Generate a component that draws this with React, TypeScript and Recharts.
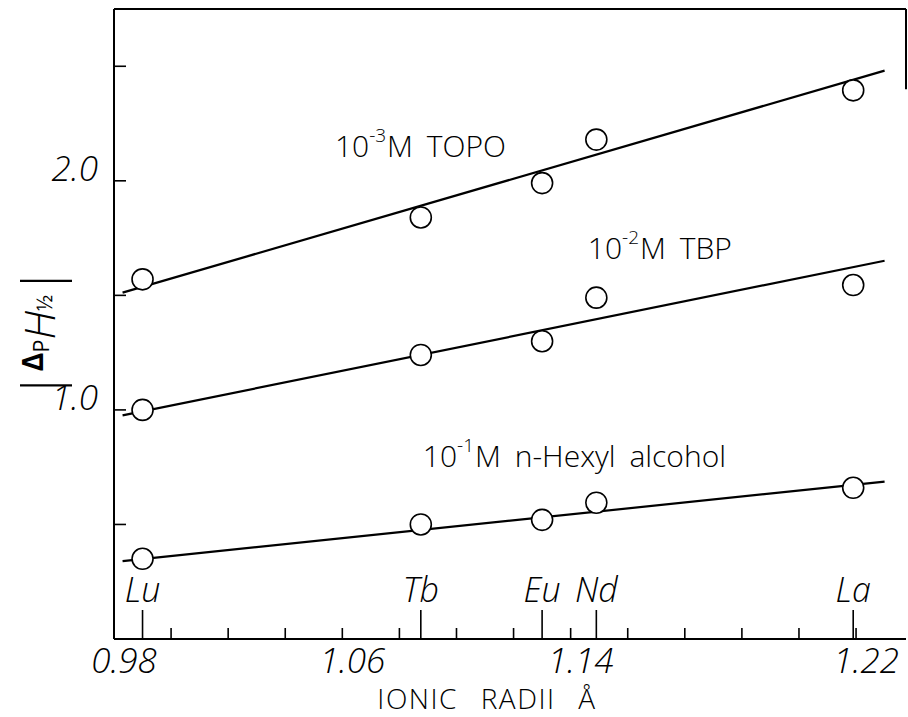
import React from "react";
import {
  ComposedChart,
  Line,
  Scatter,
  XAxis,
  YAxis,
  ReferenceLine,
  ReferenceDot,
} from "recharts";

// elements and ionic radii (as placed on the axis)
const elements = ["Lu", "Tb", "Eu", "Nd", "La"];
const radii = [0.99, 1.0875, 1.13, 1.149, 1.239];

// |Delta_P H_1/2| for each extractant
const topo = [1.57, 1.84, 1.99, 2.18, 2.395];
const tbp = [1.0, 1.24, 1.3, 1.49, 1.545];
const hexyl = [0.35, 0.5, 0.52, 0.595, 0.66];

// fitted straight lines (end points)
const fitX = [0.983, 1.25];
const topoFit = [1.512, 2.481];
const tbpFit = [0.976, 1.651];
const hexylFit = [0.34, 0.687];

// axis ticks
const minorTicks = [0.98, 1.0, 1.02, 1.04, 1.06, 1.08, 1.1, 1.12, 1.14, 1.16, 1.18, 1.2, 1.22, 1.24];
const xLabelAt = [0.98, 1.06, 1.14, 1.24];
const xLabelText = ["0.98", "1.06", "1.14", "1.22"];
const yTicks = [0.5, 1.0, 1.5, 2.0, 2.5];
const yLabelAt = [1.0, 2.0];
const yLabelText = ["1.0", "2.0"];

const X_MIN = 0.98;
const X_MAX = 1.2575;
const Y_MAX = 2.75;

const toPoints = (xs: number[], ys: number[]) => xs.map((x, i) => ({ x, y: ys[i] }));

const topoPts = toPoints(radii, topo);
const tbpPts = toPoints(radii, tbp);
const hexylPts = toPoints(radii, hexyl);
const topoLine = toPoints(fitX, topoFit);
const tbpLine = toPoints(fitX, tbpFit);
const hexylLine = toPoints(fitX, hexylFit);

const xTicks = [...minorTicks, ...radii].sort((a, b) => a - b);

const FONT = "'Open Sans', 'DejaVu Sans', sans-serif";
const near = (a: number, b: number) => Math.abs(a - b) < 1e-9;

const XTick = (props: any) => {
  const { x, y, payload } = props;
  const v = payload.value;
  const el = radii.findIndex((r) => near(r, v));
  const lab = xLabelAt.findIndex((r) => near(r, v));
  return (
    <g>
      {el >= 0 ? (
        <>
          <line x1={x} x2={x} y1={y} y2={y - 29} stroke="#000" strokeWidth={1.6} />
          <text
            x={x}
            y={y - 37}
            textAnchor="middle"
            fontFamily={FONT}
            fontStyle="italic"
            fontWeight={300}
            fontSize={34}
            fill="#000"
          >
            {elements[el]}
          </text>
        </>
      ) : (
        <line x1={x} x2={x} y1={y} y2={y - 11} stroke="#000" strokeWidth={1.6} />
      )}
      {lab >= 0 && (
        <text
          x={x + 10}
          y={y + 34}
          textAnchor="middle"
          fontFamily={FONT}
          fontStyle="italic"
          fontWeight={300}
          fontSize={35}
          fill="#000"
        >
          {xLabelText[lab]}
        </text>
      )}
    </g>
  );
};

const YTick = (props: any) => {
  const { x, y, payload } = props;
  const lab = yLabelAt.findIndex((r) => near(r, payload.value));
  return (
    <g>
      <line x1={x} x2={x + 12} y1={y} y2={y} stroke="#000" strokeWidth={1.6} />
      {lab >= 0 && (
        <text
          x={x - 16}
          y={y}
          textAnchor="end"
          fontFamily={FONT}
          fontStyle="italic"
          fontWeight={300}
          fontSize={35}
          fill="#000"
        >
          {yLabelText[lab]}
        </text>
      )}
    </g>
  );
};

const YLabel = (props: any) => {
  const vb = props.viewBox;
  const cx = 38;
  const cy = vb.y + vb.height / 2 + 9;
  return (
    <text
      x={cx}
      y={cy}
      transform={`rotate(-90, ${cx}, ${cy})`}
      textAnchor="middle"
      dominantBaseline="central"
      fontFamily={FONT}
      fill="#000"
    >
      <tspan fontSize={52} fontWeight={300}>|</tspan>
      <tspan fontSize={28} fontWeight={700} dy={-6}>Δ</tspan>
      <tspan fontSize={22} dy={8}>P</tspan>
      <tspan fontSize={42} fontStyle="italic" fontWeight={300} dy={-2}>H</tspan>
      <tspan fontSize={21} dy={6}>½</tspan>
      <tspan fontSize={52} fontWeight={300} dy={-6}>|</tspan>
    </text>
  );
};

const XLabel = (props: any) => {
  const vb = props.viewBox;
  return (
    <text
      x={vb.x + vb.width / 2 - 23}
      y={vb.y + vb.height - 8}
      textAnchor="middle"
      fontFamily={FONT}
      fontWeight={300}
      fontSize={28}
      letterSpacing={1.5}
      wordSpacing={14}
      fill="#000"
    >
      IONIC RADII Å
    </text>
  );
};

const Note = (power: string, rest: string) => (props: any) => {
  const vb = props.viewBox;
  return (
    <text x={vb.x} y={vb.y} fontFamily={FONT} fontWeight={300} fontSize={30} fill="#000" wordSpacing={6}>
      <tspan>10</tspan>
      <tspan fontSize={19} dy={-15}>
        {power}
      </tspan>
      <tspan dx={1} dy={15}>
        {rest}
      </tspan>
    </text>
  );
};

const circle = (props: any) => (
  <circle cx={props.cx} cy={props.cy} r={10.5} fill="#fff" stroke="#000" strokeWidth={1.6} />
);

const App: React.FC = (): JSX.Element => {
  return (
    <div style={{ position: "absolute", left: 0, top: 0, width: 908, height: 717, background: "#fff" }}>
      <ComposedChart width={908} height={717} margin={{ top: 9, right: 2, bottom: 0, left: 0 }}>
        <XAxis
          dataKey="x"
          type="number"
          domain={[X_MIN, X_MAX]}
          allowDataOverflow
          ticks={xTicks}
          interval={0}
          tickSize={0}
          tickMargin={0}
          tick={<XTick />}
          height={78}
          axisLine={{ stroke: "#000", strokeWidth: 2 }}
          label={{ content: <XLabel /> }}
        />
        <YAxis
          dataKey="y"
          type="number"
          domain={[0, Y_MAX]}
          allowDataOverflow
          ticks={yTicks}
          interval={0}
          tickSize={0}
          tickMargin={0}
          tick={<YTick />}
          width={114}
          axisLine={{ stroke: "#000", strokeWidth: 2 }}
          label={{ content: <YLabel /> }}
        />
        <ReferenceLine y={Y_MAX} stroke="#000" strokeWidth={2} />
        <ReferenceLine
          segment={[
            { x: X_MAX, y: Y_MAX },
            { x: X_MAX, y: 2.4 },
          ]}
          stroke="#000"
          strokeWidth={2}
        />
        <Line data={topoLine} dataKey="y" type="linear" dot={false} stroke="#000" strokeWidth={2.2} isAnimationActive={false} />
        <Line data={tbpLine} dataKey="y" type="linear" dot={false} stroke="#000" strokeWidth={2.2} isAnimationActive={false} />
        <Line data={hexylLine} dataKey="y" type="linear" dot={false} stroke="#000" strokeWidth={2.2} isAnimationActive={false} />
        <Scatter data={topoPts} dataKey="y" shape={circle} isAnimationActive={false} />
        <Scatter data={tbpPts} dataKey="y" shape={circle} isAnimationActive={false} />
        <Scatter data={hexylPts} dataKey="y" shape={circle} isAnimationActive={false} />
        <ReferenceDot x={1.0574} y={2.103} r={0} label={{ content: Note("-3", "M TOPO") }} />
        <ReferenceDot x={1.146} y={1.66} r={0} label={{ content: Note("-2", "M TBP") }} />
        <ReferenceDot x={1.0882} y={0.749} r={0} label={{ content: Note("-1", "M  n-Hexyl alcohol") }} />
      </ComposedChart>
    </div>
  );
};

export default App;
